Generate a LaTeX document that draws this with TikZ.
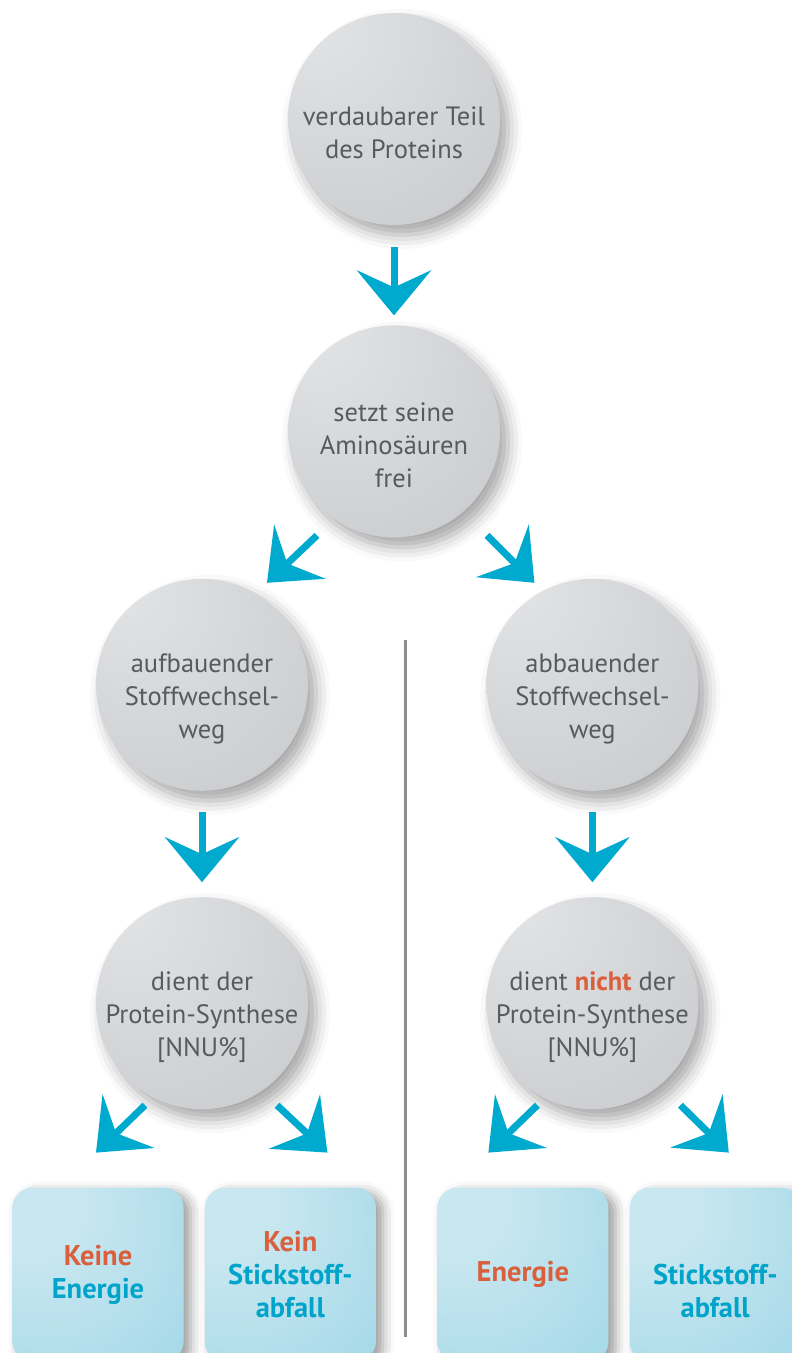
\documentclass[tikz,border=0pt]{standalone}
\usepackage{fontspec}
\setmainfont{PT Sans}
\usepackage{xcolor}
\usepackage{tikz}
\usetikzlibrary{arrows.meta, positioning, shadows.blur}
\definecolor{ballhi}{HTML}{E3E4E6}
\definecolor{balllo}{HTML}{B8B9BC}
\definecolor{txtgray}{HTML}{595A5C}
\definecolor{arrowblue}{HTML}{00A9CE}
\definecolor{boxhi}{HTML}{C8E7F0}
\definecolor{boxlo}{HTML}{86CCE0}
\definecolor{hotred}{HTML}{DA5F3C}
\definecolor{boxblue}{HTML}{00A4CA}
\definecolor{sepgray}{HTML}{8C8D90}
\pgfdeclareradialshading{ballshade}{\pgfpoint{-20bp}{25bp}}{color(0bp)=(ballhi); color(80bp)=(balllo)}
\pgfdeclareradialshading{boxshade}{\pgfpoint{-25bp}{25bp}}{color(0bp)=(boxhi); color(15bp)=(boxhi); color(80bp)=(boxlo)}
% pushes the text of a ball a little below its centre
\newcommand{\tpad}{\rule{0pt}{47pt}}
\tikzstyle{ball} = [circle, minimum size=212pt, inner sep=-30pt, shading=ballshade,
    align=center, text=txtgray, font=\fontsize{26.5}{33}\selectfont,
    blur shadow={shadow xshift=8pt, shadow yshift=-10pt, shadow blur radius=14pt, shadow opacity=35}]
\tikzstyle{result} = [rectangle, rounded corners=20pt, minimum width=171pt, minimum height=174pt,
    shading=boxshade, align=center, text=boxblue, font=\bfseries\fontsize{28.5}{33}\selectfont,
    blur shadow={shadow xshift=7pt, shadow yshift=-5pt, shadow blur radius=11pt, shadow opacity=40}]
\tikzstyle{arr} = [-{Stealth[length=45pt, width=74pt, inset=17pt]}, line width=7pt, arrowblue]
\tikzstyle{divider} = [line width=3pt, sepgray]

\begin{document}
\begin{tikzpicture}[x=1pt, y=-1pt]
  \useasboundingbox (0,0) rectangle (792,1353);
  % Top: the protein
  \node[ball] (teil) at (394,119) {\tpad verdaubarer Teil\\des Proteins};
  \node[ball, below=100pt of teil] (frei) {\tpad setzt seine\\Aminosäuren\\frei};

  % Two pathways
  \node[ball, below=41pt of frei, xshift=-192pt] (aufbau) {\tpad aufbauender\\Stoffwechsel-\\weg};
  \node[ball, right=178pt of aufbau] (abbau) {\tpad abbauender\\Stoffwechsel-\\weg};
  \node[ball, below=106pt of aufbau] (synth) {\tpad dient der\\Protein-Synthese\\{[NNU\%]}};
  \node[ball, below=106pt of abbau] (nsynth) {\tpad dient \textcolor{hotred}{\textbf{nicht}} der\\Protein-Synthese\\{[NNU\%]}};

  % Results
  \node[result, below=78pt of synth, xshift=-104pt] (keinE) {\textcolor{hotred}{Keine}\\Energie};
  \node[result, right=21pt of keinE] (keinN) {\textcolor{hotred}{Kein}\\Stickstoff-\\abfall};
  \node[result, below=78pt of nsynth, xshift=-69.5pt] (energie) {\textcolor{hotred}{Energie}};
  \node[result, right=21pt of energie] (stick) {\phantom{Kein}\\Stickstoff-\\abfall};

  % Separator
  \coordinate (sepTop) at (405,640);
  \coordinate (sepBot) at (405,1337);
  \draw[divider] (sepTop) -- (sepBot);

  % Arrows
  \draw[arr] ([shift={(0,128)}]teil.center) -- ([shift={(0,-116)}]frei.center);
  \draw[arr] ([shift={(-77,104)}]frei.center) -- ([shift={(65,-102)}]aufbau.center);
  \draw[arr] ([shift={(93,104)}]frei.center) -- ([shift={(-58,-102)}]abbau.center);
  \draw[arr] ([shift={(0,127)}]aufbau.center) -- ([shift={(0,-121)}]synth.center);
  \draw[arr] ([shift={(0,127)}]abbau.center) -- ([shift={(0,-121)}]nsynth.center);
  \draw[arr] ([shift={(-57,102)}]synth.center) -- ([shift={(-2,-122)}]keinE.center);
  \draw[arr] ([shift={(75,102)}]synth.center) -- ([shift={(37,-122)}]keinN.center);
  \draw[arr] ([shift={(-55,102)}]nsynth.center) -- ([shift={(-34.5,-122)}]energie.center);
  \draw[arr] ([shift={(88,102)}]nsynth.center) -- ([shift={(13.5,-122)}]stick.center);
\end{tikzpicture}
\end{document}
